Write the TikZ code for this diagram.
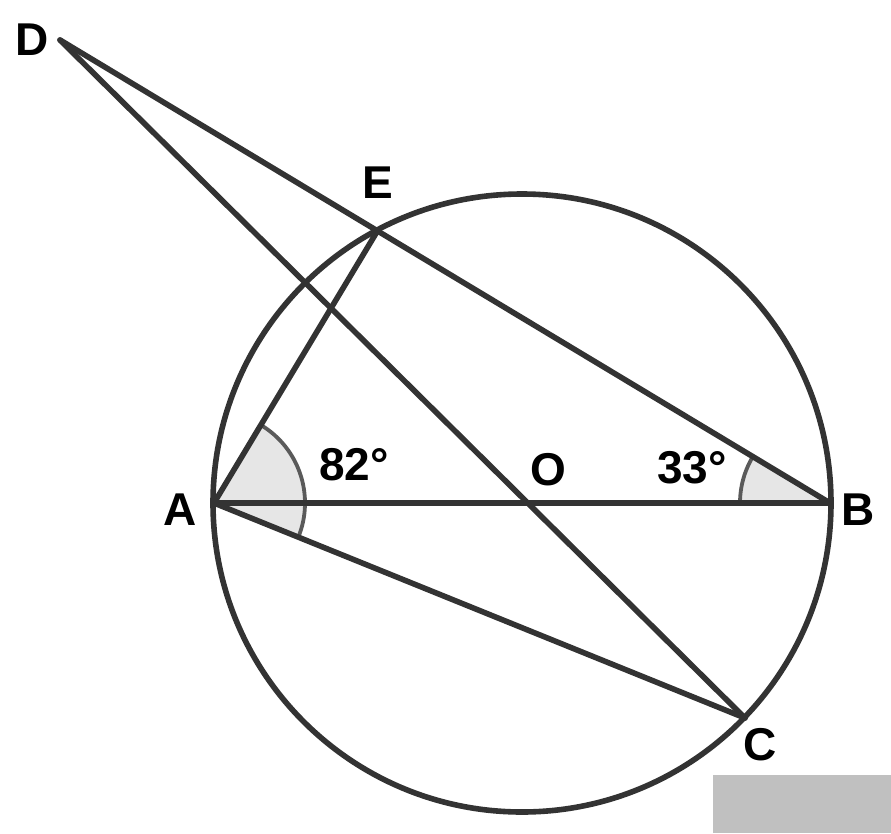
\documentclass[tikz,border=0pt]{standalone}
\usepackage{fontspec}
\setmainfont{Liberation Sans}
\usepackage{tikz}

\definecolor{inkgray}{HTML}{333333}
\definecolor{arcgray}{HTML}{5A5A5A}
\definecolor{shadegray}{HTML}{E6E6E6}
\definecolor{boxgray}{HTML}{C0C0C0}

\tikzset{
  seg/.style = {line width = 5.6pt, inkgray, line cap = round},
  ptlabel/.style = {font = \fontsize{46}{50}\selectfont\bfseries, inner sep = 0pt},
  angmark/.style = {line width = 3.8pt, arcgray},
}

\begin{document}
\begin{tikzpicture}[x = 1pt, y = -1pt]
        \useasboundingbox (0,0) rectangle (891,833);

        % points
        \coordinate (O) at (522,503);
        \coordinate (A) at (214,503);
        \coordinate (B) at (830,503);
        \coordinate (E) at (378,230);
        \coordinate (C) at (745,718);
        \coordinate (D) at (60,40);

        % shaded angles
        \fill [shadegray] (A) -- ++(22.1:91) arc[start angle = 22.1, end angle = -59.2, radius = 91] -- cycle;
        \fill [shadegray] (B) -- ++(-149:90) arc[start angle = -149, end angle = -180, radius = 90] -- cycle;
        \draw [angmark] (A) ++(22.1:91) arc[start angle = 22.1, end angle = -59.2, radius = 91];
        \draw [angmark] (B) ++(-149:90) arc[start angle = -149, end angle = -180, radius = 90];

        \draw [seg] (O) circle (309);

        \draw [seg] (D) -- (B);
        \draw [seg] (D) -- (C);
        \draw [seg] (A) -- (E);
        \draw [seg] (A) -- (B);
        \draw [seg] (A) -- (C);

        % labels
        \node [ptlabel] (labD) at (32,40) {D};
        \node [ptlabel] (labE) at (378,183) {E};
        \node [ptlabel] (labA) at (180,510) {A};
        \node [ptlabel] (labB) at (858,510) {B};
        \node [ptlabel] (labO) at (548,470) {O};
        \node [ptlabel] (labC) at (760,745) {C};
        \node [ptlabel] (ang82) at (354,465) {82°};
        \node [ptlabel] (ang33) at (692,468) {33°};

        \fill [boxgray] (713,775) rectangle (891,833);
\end{tikzpicture}
\end{document}
